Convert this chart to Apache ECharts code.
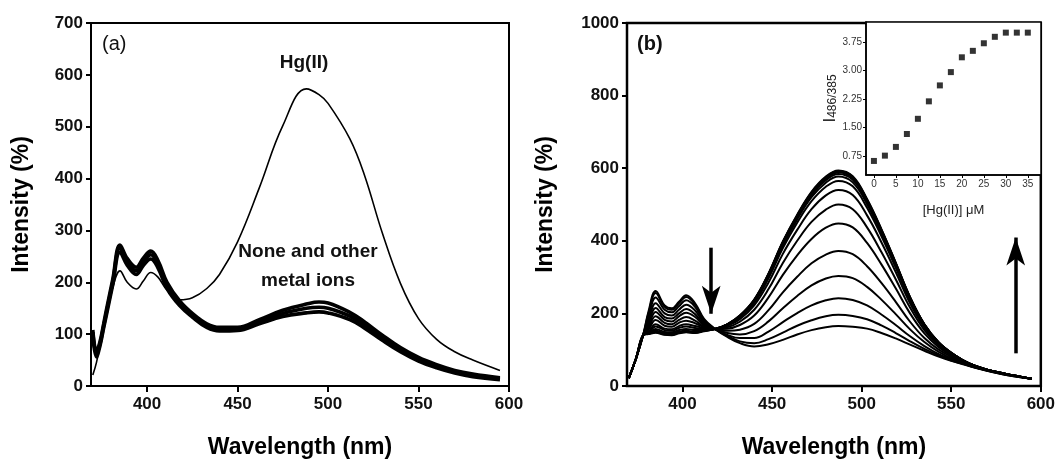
<!DOCTYPE html>
<html>
<head>
<meta charset="utf-8">
<script src="https://cdn.jsdelivr.net/npm/echarts@6/dist/echarts.min.js"></script>
<style>
  html, body { margin: 0; padding: 0; background: #fff; }
  #chart { width: 1058px; height: 464px; }
</style>
</head>
<body>
<div id="chart"></div>
<script>
// ---- Panel (a): selectivity spectra ----
const wlA = [370,372,374,376,378,381,385,389,394,398,402,406,411,418,425,433,440,450,462,475,488,495,500,512,520,530,540,550,560,570,580,595];
const hgA = [21,45,80,112,146,190,222,200,187,203,219,210,185,166,170,188,215,278,382,502,573,562,545,477,408,295,198,130,90,66,50,30];
const noneHigh = [108,66,86,120,155,205,272,246,229,247,260,242,200,164,140,120,113,113,128,146,158,162,160,142,124,98,74,55,41,30,23,16];
const noneMid  = [104,62,82,116,150,200,266,240,222,240,253,235,195,160,137,117,110,110,124,140,150,152,150,135,118,93,70,52,38,28,21,14];
const noneLow  = [98,56,78,112,145,195,258,233,215,233,245,228,188,155,133,113,106,107,120,134,141,143,141,128,112,88,66,48,35,25,18,12];

// ---- Panel (b): titration spectra, one per Hg(II) addition ----
const wlB = [370,374,378,381,385,390,394,398,402,407,412,418,425,432,440,448,456,464,472,480,487,495,503,511,519,527,535,543,551,560,570,580,595];
const hg00  = [22,75,140,205,262,222,214,232,250,228,185,158,135,118,109,115,127,142,154,162,165,163,158,146,131,114,97,81,68,55,42,31,20];
const hg025 = [22,75,140,200,256,218,210,228,245,224,182,157,138,123,118,129,147,166,181,192,196,193,184,167,146,123,102,84,69,56,42,31,20];
const hg050 = [22,75,140,190,244,210,203,220,236,218,178,157,141,132,132,150,176,201,222,236,242,237,222,197,168,137,110,88,72,56,43,32,20];
const hg075 = [22,75,140,180,228,200,194,210,224,208,174,157,146,142,151,178,214,248,277,296,303,297,273,238,198,156,121,94,74,57,43,32,20];
const hg100 = [22,75,140,172,215,190,186,200,212,198,170,157,152,155,171,209,258,301,338,362,372,363,330,284,232,177,132,100,78,58,43,32,20];
const hg125 = [22,75,140,165,204,182,178,192,202,190,167,157,158,168,194,244,306,360,405,436,448,437,394,335,269,200,145,107,81,60,44,33,20];
const hg150 = [22,75,140,160,192,174,170,182,190,180,164,157,162,177,210,267,339,400,452,486,500,487,437,369,294,216,154,111,84,60,44,33,20];
const hg175 = [22,75,140,155,182,166,163,174,180,173,162,157,166,184,222,285,364,430,487,525,540,526,470,396,314,228,161,115,85,61,45,34,20];
const hg200 = [22,75,140,150,170,158,156,165,170,165,160,157,168,189,229,297,380,450,509,549,565,550,491,413,326,236,165,117,87,62,45,34,20];
const hg225 = [22,75,140,148,164,154,152,160,164,160,158,157,169,191,233,302,387,459,520,560,577,561,501,421,332,240,167,118,87,62,45,34,20];
const hg250 = [22,75,140,146,157,149,148,154,157,154,155,157,169,192,235,306,392,464,526,567,584,568,507,425,335,242,168,119,88,62,45,34,20];
const hg275 = [22,75,140,145,152,146,145,150,152,150,153,157,170,193,236,307,394,467,530,571,588,572,510,428,337,243,169,119,88,62,45,34,20];
const hg300 = [22,75,140,144,149,143,142,147,150,148,152,157,170,193,237,308,396,469,532,573,590,574,512,429,338,244,169,120,88,62,45,34,20];
const hg325 = [22,75,140,144,148,142,141,146,149,147,152,157,170,194,237,309,397,470,533,575,592,576,513,431,339,244,170,120,88,62,45,34,20];
const hg350 = [22,75,140,143,147,141,140,145,148,146,151,157,170,194,238,310,398,472,535,577,594,578,515,432,340,245,170,120,88,62,45,34,20];
const titration = [hg00,hg025,hg050,hg075,hg100,hg125,hg150,hg175,hg200,hg225,hg250,hg275,hg300,hg325,hg350];

// ---- Inset: intensity ratio vs. Hg(II) concentration ----
const hgConc = [0,2.5,5,7.5,10,12.5,15,17.5,20,22.5,25,27.5,30,32.5,35];
const ratio  = [0.62,0.76,0.99,1.33,1.73,2.19,2.61,2.96,3.35,3.52,3.72,3.89,4.00,4.00,4.00];

const wlTicks = [400,450,500,550,600];
const concTicks = [0,5,10,15,20,25,30,35];
const ratioTicks = [0.75,1.50,2.25,3.00,3.75];

const FONT = "'Liberation Sans', Arial, sans-serif";
const pairs = (xs, ys) => xs.map((x, i) => [x, ys[i]]);

const chart = echarts.init(document.getElementById('chart'), null, { renderer: 'canvas' });

function mainX(gridIndex) {
  return {
    type: 'value', gridIndex, min: 369, max: 600,
    name: 'Wavelength (nm)', nameLocation: 'middle', nameGap: 50,
    nameTextStyle: { fontFamily: FONT, fontSize: 23, fontWeight: 'bold', color: '#000' },
    axisLine: { show: true, onZero: false, lineStyle: { color: '#000', width: 2 } },
    axisTick: { show: true, length: 6, lineStyle: { color: '#000', width: 2 }, customValues: wlTicks },
    axisLabel: { fontFamily: FONT, fontSize: 17, fontWeight: 'bold', color: '#111', margin: 10, customValues: wlTicks },
    splitLine: { show: false }
  };
}
function mainY(gridIndex, max, interval, gap) {
  return {
    type: 'value', gridIndex, min: 0, max, interval,
    name: 'Intensity (%)', nameLocation: 'middle', nameGap: gap, nameRotate: 90,
    nameTextStyle: { fontFamily: FONT, fontSize: 23, fontWeight: 'bold', color: '#000' },
    axisLine: { show: true, onZero: false, lineStyle: { color: '#000', width: 2 } },
    axisTick: { show: true, length: 5, lineStyle: { color: '#000', width: 2 } },
    axisLabel: { fontFamily: FONT, fontSize: 17, fontWeight: 'bold', color: '#111', margin: 8, formatter: v => String(v) },
    splitLine: { show: false }
  };
}

const lineBase = { type: 'line', showSymbol: false, symbol: 'none', smooth: 0.4, animation: false, silent: true };

const series = [];
// panel (a)
series.push(Object.assign({}, lineBase, { name: 'Hg(II)', xAxisIndex: 0, yAxisIndex: 0, data: pairs(wlA, hgA), lineStyle: { color: '#000', width: 1.6 } }));
[noneHigh, noneMid, noneLow].forEach((arr, k) => {
  series.push(Object.assign({}, lineBase, { name: 'none' + k, xAxisIndex: 0, yAxisIndex: 0, data: pairs(wlA, arr), lineStyle: { color: '#000', width: 3.6 } }));
});
// panel (b)
titration.forEach((arr, k) => {
  series.push(Object.assign({}, lineBase, { name: 'b' + k, xAxisIndex: 1, yAxisIndex: 1, data: pairs(wlB, arr), lineStyle: { color: '#000', width: 2 } }));
});
// trend arrows in panel (b)
series.push({
  type: 'line', xAxisIndex: 1, yAxisIndex: 1, data: [], silent: true, animation: false,
  markLine: {
    silent: true, animation: false, symbol: ['none', 'arrow'], symbolSize: [14, 28], label: { show: false },
    lineStyle: { color: '#000', width: 3.5, type: 'solid' },
    data: [
      [{ coord: [416, 381] }, { coord: [416, 199] }],
      [{ coord: [586, 90] }, { coord: [586, 409] }]
    ]
  }
});
// inset scatter
series.push({
  type: 'scatter', xAxisIndex: 2, yAxisIndex: 2, data: pairs(hgConc, ratio), symbol: 'rect', symbolSize: 6,
  itemStyle: { color: '#000' }, animation: false, silent: true, z: 10
});

chart.setOption({
  backgroundColor: '#fff',
  animation: false,
  grid: [
    { left: 91, top: 23, width: 418, height: 368, show: true, borderColor: '#000', borderWidth: 2, backgroundColor: 'transparent' },
    { left: 627, top: 23, width: 416, height: 367, show: true, borderColor: '#000', borderWidth: 2.5, backgroundColor: 'transparent' },
    { left: 866, top: 22, width: 175, height: 153, show: true, borderColor: '#000', borderWidth: 1.5, backgroundColor: '#fff' }
  ],
  xAxis: [
    mainX(0),
    mainX(1),
    {
      type: 'value', gridIndex: 2, min: -1.8, max: 38,
      name: '[Hg(II)] \u03bcM', nameLocation: 'middle', nameGap: 29,
      nameTextStyle: { fontFamily: FONT, fontSize: 13, color: '#222' },
      axisLine: { show: true, onZero: false, lineStyle: { color: '#000', width: 1.5 } },
      axisTick: { show: true, length: 3, lineStyle: { color: '#000', width: 1 }, customValues: concTicks },
      axisLabel: { fontFamily: FONT, fontSize: 10, color: '#333', margin: 4, customValues: concTicks },
      splitLine: { show: false }
    }
  ],
  yAxis: [
    mainY(0, 700, 100, 58),
    mainY(1, 1000, 200, 70),
    {
      type: 'value', gridIndex: 2, min: 0.25, max: 4.28,
      name: '{i|I}{s|486/385}', nameLocation: 'middle', nameGap: 26, nameRotate: 90,
      nameTextStyle: {
        fontFamily: FONT, color: '#222',
        rich: {
          i: { fontFamily: FONT, fontSize: 17, color: '#222', lineHeight: 17, verticalAlign: 'top' },
          s: { fontFamily: FONT, fontSize: 12, color: '#222', lineHeight: 12, padding: [8, 0, 0, 0], verticalAlign: 'bottom' }
        }
      },
      axisLine: { show: true, onZero: false, lineStyle: { color: '#000', width: 1.5 } },
      axisTick: { show: true, length: 3, lineStyle: { color: '#000', width: 1 }, customValues: ratioTicks },
      axisLabel: { fontFamily: FONT, fontSize: 10, color: '#333', margin: 4, customValues: ratioTicks, formatter: v => v.toFixed(2) },
      splitLine: { show: false }
    }
  ],
  series,
  graphic: [
    { type: 'text', left: 102, top: 34, style: { text: '(a)', font: '20px ' + FONT, fill: '#111' } },
    { type: 'text', left: 637, top: 34, style: { text: '(b)', font: 'bold 20px ' + FONT, fill: '#111' } },
    { type: 'text', x: 304, y: 63, style: { text: 'Hg(II)', font: 'bold 19px ' + FONT, fill: '#111', align: 'center', verticalAlign: 'middle' } },
    { type: 'text', x: 308, y: 252, style: { text: 'None and other', font: 'bold 19px ' + FONT, fill: '#111', align: 'center', verticalAlign: 'middle' } },
    { type: 'text', x: 308, y: 281, style: { text: 'metal ions', font: 'bold 19px ' + FONT, fill: '#111', align: 'center', verticalAlign: 'middle' } }
  ]
});
</script>
</body>
</html>
